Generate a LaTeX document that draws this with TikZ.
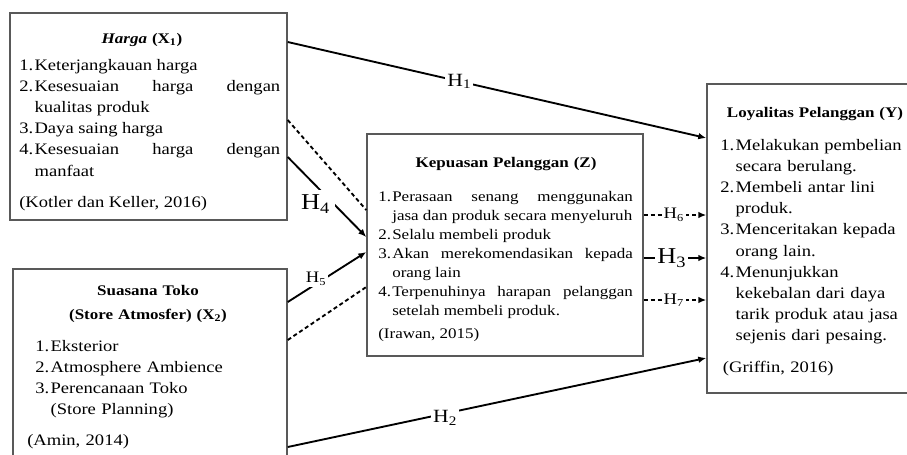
\documentclass[tikz,border=0pt]{standalone}
\usepackage{fontspec}
\setmainfont{Liberation Serif}[FakeStretch=1.16]
\usetikzlibrary{arrows.meta}

\newlength{\numwd}
\newcommand{\nitem}[2]{\noindent\hangindent=\numwd\hangafter=1\makebox[\numwd][l]{#1}#2\par}

\tikzset{
  varbox/.style={draw=black!65, line width=1.1pt, rectangle, inner sep=0pt},
  boxtitle/.style={anchor=base, inner sep=0pt, text width=200pt, align=center,
    font=\fontsize{11}{18}\selectfont\bfseries},
  itemsbig/.style={anchor=base west, inner sep=0pt,
    font=\fontsize{12}{15.9}\selectfont\setlength{\numwd}{11.5pt}},
  itemssmall/.style={anchor=base west, inner sep=0pt,
    font=\fontsize{11}{14.25}\selectfont\setlength{\numwd}{10.5pt}},
  link/.style={line width=1.4pt, -{Latex[length=6pt,width=5pt]}},
  mediate/.style={line width=1.4pt, dash pattern=on 3pt off 2.2pt},
  arrowed/.style={-{Latex[length=6pt,width=5pt]}},
  hlabel/.style={fill=white, inner sep=1.5pt}
}

\begin{document}
\begin{tikzpicture}[x=0.75pt, y=-0.75pt]
\useasboundingbox (0,0) rectangle (907,454);

% variable boxes
\node[varbox, minimum width=207.75pt, minimum height=155.25pt] (x1) at (148.5,116.5) {};
\node[varbox, minimum width=205.5pt, minimum height=141.75pt] (x2) at (150,363.5) {};
\node[varbox, minimum width=207pt, minimum height=166.5pt] (z) at (505,245) {};
\node[varbox, minimum width=153.75pt, minimum height=231.75pt] (y) at (809.5,238.5) {};

% X1
\node[boxtitle] (x1title) at (142,43) {\textit{Harga} (X\textsubscript{1})};
\node[itemsbig, text width=195.75pt, align=justify] (x1items) at (19,70) {%
\nitem{1.}{Keterjangkauan harga}%
\nitem{2.}{Kesesuaian harga dengan\linebreak kualitas produk}%
\nitem{3.}{Daya saing harga}%
\nitem{4.}{Kesesuaian harga dengan\linebreak manfaat}%
\vspace{7.5pt}\noindent(Kotler dan Keller, 2016)};

% X2
\node[boxtitle] (x2title) at (148,295) {Suasana Toko\\(Store Atmosfer) (X\textsubscript{2})};
\node[itemsbig, text width=172pt, align=left] (x2items) at (35,351) {%
\nitem{1.}{Eksterior}%
\nitem{2.}{Atmosphere Ambience}%
\nitem{3.}{Perencanaan Toko\newline (Store Planning)}%
\vspace{7pt}\noindent\hspace{-6pt}(Amin, 2014)};

% Z
\node[boxtitle] (ztitle) at (506,167) {Kepuasan Pelanggan (Z)};
\node[itemssmall, text width=191pt, align=justify] (zitems) at (378,201) {%
\nitem{1.}{Perasaan senang menggunakan\linebreak jasa dan produk secara menyeluruh}%
\nitem{2.}{Selalu membeli produk}%
\nitem{3.}{Akan merekomendasikan kepada\linebreak orang lain}%
\nitem{4.}{Terpenuhinya harapan pelanggan\linebreak setelah membeli produk.}%
\vspace{3pt}\noindent(Irawan, 2015)};

% Y
\node[boxtitle] (ytitle) at (815,117) {Loyalitas Pelanggan (Y)};
\node[itemsbig, text width=139pt, align=left] (yitems) at (720,150) {%
\nitem{1.}{Melakukan pembelian\newline secara berulang.}%
\nitem{2.}{Membeli antar lini\newline produk.}%
\nitem{3.}{Menceritakan kepada\newline orang lain.}%
\nitem{4.}{Menunjukkan\newline kekebalan dari daya\newline tarik produk atau jasa\newline sejenis dari pesaing.}%
\vspace{7.5pt}\noindent\hspace{2pt}(Griffin, 2016)};

% direct paths
\draw[link] (x1.east |- 0,42) -- node[hlabel, pos=.41, font=\fontsize{14}{14}\selectfont] (h1) {H\textsubscript{1}} (y.west |- 0,138);
\draw[link] (x2.east |- 0,447) -- node[hlabel, pos=.376, yshift=-3pt, font=\fontsize{14}{14}\selectfont] (h2) {H\textsubscript{2}} (y.west |- 0,358);

% paths into Z
\draw[mediate] (x1.east |- 0,120) -- (z.west |- 0,210);
\draw[link] (x1.east |- 0,157) -- node[hlabel, inner sep=4pt, pos=.44, xshift=-5pt, yshift=-9pt, font=\fontsize{17}{17}\selectfont] (h4) {H\textsubscript{4}} (z.west |- 0,237);
\draw[link] (x2.east |- 0,302) -- node[hlabel, pos=.36, yshift=4pt, font=\fontsize{12}{12}\selectfont] (h5) {H\textsubscript{5}} (z.west |- 0,252);
\draw[mediate] (x2.east |- 0,340) -- (z.west |- 0,287);

% paths from Z
\draw[mediate, arrowed] (z.east |- 0,215) -- node[hlabel, pos=.48, font=\fontsize{12}{12}\selectfont] (h6) {H\textsubscript{6}} (y.west |- 0,215);
\draw[link] (z.east |- 0,258) -- node[hlabel, pos=.45, font=\fontsize{17}{17}\selectfont] (h3) {H\textsubscript{3}} (y.west |- 0,258);
\draw[mediate, arrowed] (z.east |- 0,300) -- node[hlabel, pos=.48, font=\fontsize{12}{12}\selectfont] (h7) {H\textsubscript{7}} (y.west |- 0,300);
\end{tikzpicture}
\end{document}
